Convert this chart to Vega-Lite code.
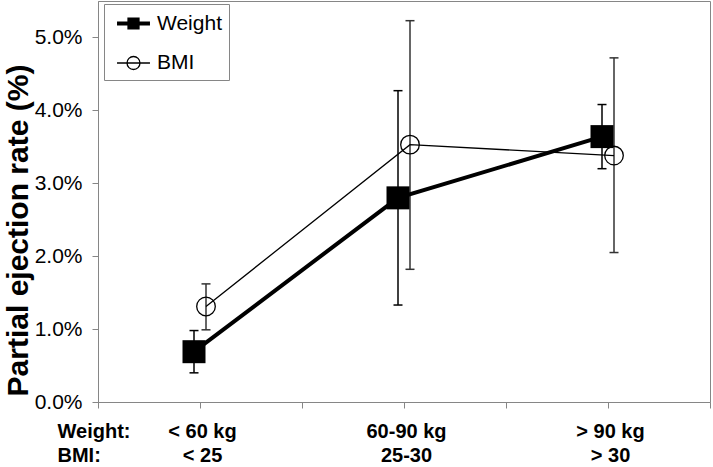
{
  "$schema": "https://vega.github.io/schema/vega-lite/v6.json",
  "width": 612,
  "height": 401,
  "autosize": {"type": "none"},
  "padding": {"left": 98, "top": 1, "right": 3, "bottom": 65},
  "config": {
    "font": "Liberation Sans",
    "view": {"stroke": "#868686", "strokeWidth": 1},
    "legend": {
      "orient": "none",
      "legendX": 6,
      "legendY": 3,
      "padding": 7,
      "strokeColor": "#868686",
      "fillColor": "white",
      "symbolSize": 424,
      "symbolOffset": 10,
      "labelOffset": 11,
      "rowPadding": 16,
      "labelFontSize": 21,
      "labelColor": "black",
      "symbolStrokeColor": "black"
    }
  },
  "data": {
    "values": [
      {"series": "Weight", "cat": 0.5, "rate": 0.0069, "lo": 0.0040, "hi": 0.0098},
      {"series": "Weight", "cat": 1.5, "rate": 0.0280, "lo": 0.0133, "hi": 0.0427},
      {"series": "Weight", "cat": 2.5, "rate": 0.0364, "lo": 0.0320, "hi": 0.0408},
      {"series": "BMI", "cat": 0.5, "rate": 0.0131, "lo": 0.0099, "hi": 0.0162},
      {"series": "BMI", "cat": 1.5, "rate": 0.0353, "lo": 0.0182, "hi": 0.0523},
      {"series": "BMI", "cat": 2.5, "rate": 0.0338, "lo": 0.0205, "hi": 0.0472}
    ]
  },
  "encoding": {
    "x": {
      "field": "cat",
      "type": "quantitative",
      "scale": {"domain": [0, 3], "nice": false, "zero": false},
      "axis": {
        "values": [0, 0.5, 1, 1.5, 2, 2.5, 3],
        "labelExpr": "datum.value == 0 ? ['Weight:', 'BMI:'] : datum.value == 0.5 ? ['< 60 kg', '< 25'] : datum.value == 1.5 ? ['60-90 kg', '25-30'] : datum.value == 2.5 ? ['> 90 kg', '> 30'] : ''",
        "title": null,
        "grid": false,
        "tickSize": 6,
        "domainColor": "#868686",
        "tickColor": "#868686",
        "labelFontSize": 20,
        "labelFontWeight": "bold",
        "labelColor": "black",
        "labelPadding": 13,
        "labelLineHeight": 24,
        "labelOverlap": false,
        "labelFlush": false,
        "labelBound": false,
        "labelAlign": {"condition": {"test": "datum.value == 0", "value": "left"}, "value": "center"},
        "labelOffset": {"condition": {"test": "datum.value == 0", "value": -41}, "value": 2}
      }
    },
    "y": {
      "field": "rate",
      "type": "quantitative",
      "title": "Partial ejection rate (%)",
      "scale": {"domain": [0, 0.055], "nice": false},
      "axis": {
        "values": [0, 0.01, 0.02, 0.03, 0.04, 0.05],
        "format": ".1%",
        "title": "Partial ejection rate (%)",
        "titleFontSize": 30,
        "titleFontWeight": "bold",
        "titleColor": "black",
        "titlePadding": 1,
        "titleY": 229,
        "grid": false,
        "tickSize": 6,
        "domainColor": "#868686",
        "tickColor": "#868686",
        "labelFontSize": 21,
        "labelColor": "black",
        "labelPadding": 10
      }
    }
  },
  "layer": [
    {
      "transform": [{"filter": "datum.series == 'Weight'"}],
      "mark": {"type": "rule", "color": "black", "strokeWidth": 1.5, "xOffset": -6},
      "encoding": {
        "y": {"field": "lo", "type": "quantitative", "title": "Partial ejection rate (%)", "scale": {"domain": [0, 0.055], "nice": false}},
        "y2": {"field": "hi"}
      }
    },
    {
      "transform": [{"filter": "datum.series == 'Weight'"}, {"fold": ["lo", "hi"], "as": ["bound", "val"]}],
      "mark": {"type": "tick", "orient": "horizontal", "color": "black", "size": 9, "thickness": 1.5, "xOffset": -6, "opacity": 1},
      "encoding": {
        "y": {"field": "val", "type": "quantitative", "title": "Partial ejection rate (%)", "scale": {"domain": [0, 0.055], "nice": false}}
      }
    },
    {
      "transform": [{"filter": "datum.series == 'BMI'"}],
      "mark": {"type": "rule", "color": "#333333", "strokeWidth": 1.5, "xOffset": 6},
      "encoding": {
        "y": {"field": "lo", "type": "quantitative", "title": "Partial ejection rate (%)", "scale": {"domain": [0, 0.055], "nice": false}},
        "y2": {"field": "hi"}
      }
    },
    {
      "transform": [{"filter": "datum.series == 'BMI'"}, {"fold": ["lo", "hi"], "as": ["bound", "val"]}],
      "mark": {"type": "tick", "orient": "horizontal", "color": "#333333", "size": 9, "thickness": 1.5, "xOffset": 6, "opacity": 1},
      "encoding": {
        "y": {"field": "val", "type": "quantitative", "title": "Partial ejection rate (%)", "scale": {"domain": [0, 0.055], "nice": false}}
      }
    },
    {
      "transform": [{"filter": "datum.series == 'Weight'"}],
      "mark": {"type": "line", "color": "black", "strokeWidth": 4, "xOffset": -6}
    },
    {
      "transform": [{"filter": "datum.series == 'BMI'"}],
      "mark": {"type": "line", "color": "black", "strokeWidth": 1.3, "xOffset": 6}
    },
    {
      "transform": [{"filter": "datum.series == 'Weight'"}],
      "mark": {"type": "point", "shape": "square", "filled": true, "color": "black", "opacity": 1, "size": 529, "xOffset": -6}
    },
    {
      "transform": [{"filter": "datum.series == 'BMI'"}],
      "mark": {"type": "point", "shape": "circle", "filled": false, "stroke": "black", "strokeWidth": 1.3, "opacity": 1, "size": 346, "xOffset": 6}
    },
    {
      "mark": {"type": "point", "opacity": 0},
      "encoding": {
        "shape": {
          "field": "series",
          "type": "nominal",
          "scale": {"domain": ["Weight", "BMI"], "range": ["M-1.6,0H1.6M-0.4,-0.4H0.4V0.4H-0.4Z", "M-1.6,0H1.6M0.63,0A0.63,0.63 0 1,1 -0.63,0A0.63,0.63 0 1,1 0.63,0Z"]},
          "legend": {"title": null, "encode": {"symbols": {"update": {"opacity": {"value": 1}}}}}
        },
        "fill": {
          "field": "series",
          "type": "nominal",
          "scale": {"domain": ["Weight", "BMI"], "range": ["black", "transparent"]},
          "legend": {"title": null, "encode": {"symbols": {"update": {"opacity": {"value": 1}}}}}
        },
        "strokeWidth": {
          "field": "series",
          "type": "nominal",
          "scale": {"domain": ["Weight", "BMI"], "range": [4, 1.3]},
          "legend": {"title": null, "encode": {"symbols": {"update": {"opacity": {"value": 1}}}}}
        }
      }
    }
  ]
}
